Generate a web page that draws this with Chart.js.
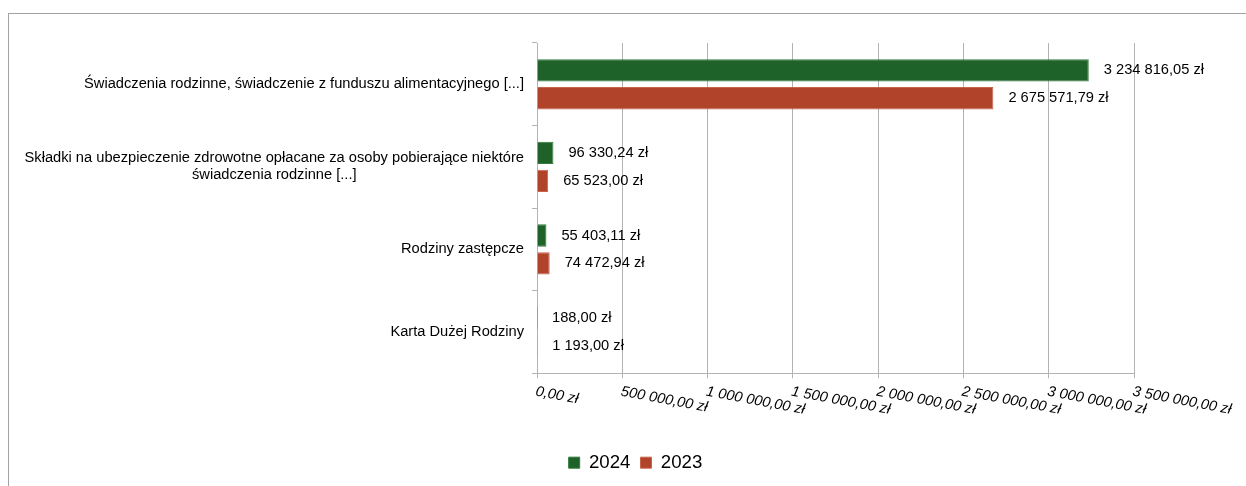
<!DOCTYPE html>
<html>
<head>
<meta charset="utf-8">
<script src="https://cdn.jsdelivr.net/npm/chart.js@4.4.1/dist/chart.umd.min.js"></script>
<style>
  html, body { margin: 0; padding: 0; overflow: hidden; background: #fff; }
  .frame {
    position: absolute;
    left: 8px;
    top: 13px;
    width: 1250px;
    height: 490px;
    border: 1px solid #a3a3a3;
    background: #fff;
  }
  .chart-box { position: relative; width: 1237px; height: 472px; }
</style>
</head>
<body>
<div class="frame">
  <div class="chart-box"><canvas id="myChart"></canvas></div>
</div>
<script>
// categories (multi-line ones as arrays)
const categories = [
  ["Świadczenia rodzinne, świadczenie z funduszu alimentacyjnego [...]"],
  ["Składki na ubezpieczenie zdrowotne opłacane za osoby pobierające niektóre", "świadczenia rodzinne [...]"],
  ["Rodziny zastępcze"],
  ["Karta Dużej Rodziny"],
];
const seriesNames = ["2024", "2023"];
const values2024 = [3234816.05, 96330.24, 55403.11, 188.0];
const values2023 = [2675571.79, 65523.0, 74472.94, 1193.0];
const axisMax = 3500000;
const axisStep = 500000;

const FONT = "'Liberation Sans', Arial, sans-serif";
const GRID = "#b3b3b3";

// 3234816.05 -> "3 234 816,05 zł"
function formatZl(v) {
  var parts = Number(v).toFixed(2).split(".");
  var intPart = parts[0].replace(/\B(?=(\d{3})+(?!\d))/g, " ");
  return intPart + "," + parts[1] + " zł";
}

// value labels to the right of each bar
const valueLabels = {
  id: "valueLabels",
  afterDatasetsDraw(chart) {
    const ctx = chart.ctx;
    ctx.save();
    ctx.font = "14.67px " + FONT;
    ctx.fillStyle = "#000";
    ctx.textAlign = "left";
    ctx.textBaseline = "middle";
    chart.data.datasets.forEach((ds, i) => {
      chart.getDatasetMeta(i).data.forEach((bar, j) => {
        ctx.fillText(formatZl(ds.data[j]), bar.x + 15, bar.y);
      });
    });
    ctx.restore();
  },
};

// slanted x tick labels and centered multi-line category labels
const axisLabels = {
  id: "axisLabels",
  afterDraw(chart) {
    const ctx = chart.ctx;
    const xs = chart.scales.x;
    const ys = chart.scales.y;
    ctx.save();
    ctx.fillStyle = "#000";

    ctx.font = "italic 14.67px " + FONT;
    ctx.textAlign = "left";
    ctx.textBaseline = "top";
    xs.ticks.forEach((t) => {
      const px = xs.getPixelForValue(t.value);
      ctx.save();
      ctx.translate(px, xs.top + 11);
      ctx.rotate((10.5 * Math.PI) / 180);
      ctx.fillText(formatZl(t.value), 0, 0);
      ctx.restore();
    });

    ctx.font = "14.67px " + FONT;
    ctx.textAlign = "center";
    ctx.textBaseline = "middle";
    const right = ys.right - 13;
    const lineH = 17;
    categories.forEach((lines, i) => {
      const y = ys.getPixelForTick(i);
      const maxW = Math.max(...lines.map((l) => ctx.measureText(l).width));
      lines.forEach((l, k) => {
        ctx.fillText(l, right - maxW / 2, y + (k - (lines.length - 1) / 2) * lineH);
      });
    });
    ctx.restore();
  },
};

Chart.defaults.font.family = FONT;

new Chart(document.getElementById("myChart"), {
  type: "bar",
  data: {
    labels: categories,
    datasets: [
      {
        label: seriesNames[0],
        data: values2024,
        backgroundColor: "#1e6129",
        borderColor: "#2f7a3a",
        borderWidth: 1,
      },
      {
        label: seriesNames[1],
        data: values2023,
        backgroundColor: "#b0432a",
        borderColor: "#c9644c",
        borderWidth: 1,
      },
    ],
  },
  options: {
    indexAxis: "y",
    responsive: true,
    maintainAspectRatio: false,
    animation: false,
    barPercentage: 0.8,
    categoryPercentage: 0.675,
    layout: { padding: { top: 29, left: 16, bottom: 4, right: 0 } },
    scales: {
      x: {
        min: 0,
        max: axisMax,
        ticks: { stepSize: axisStep, display: false },
        grid: { color: GRID, tickLength: 5, drawTicks: true },
        border: { color: GRID },
        afterFit: (scale) => { scale.height = 70; },
      },
      y: {
        ticks: { display: false },
        grid: { drawOnChartArea: false, offset: true, tickLength: 5, color: GRID },
        border: { color: GRID },
        afterFit: (scale) => { scale.width = 512; },
      },
      // keeps empty space to the right of the plot
      pad: {
        type: "linear",
        position: "right",
        display: true,
        ticks: { display: false },
        grid: { display: false },
        border: { display: false },
        afterFit: (scale) => { scale.width = 112; },
      },
    },
    plugins: {
      legend: {
        position: "bottom",
        labels: {
          boxWidth: 11,
          boxHeight: 11,
          padding: 10,
          color: "#000",
          font: { size: 18.67 },
        },
      },
      tooltip: { enabled: false },
    },
  },
  plugins: [valueLabels, axisLabels],
});
</script>
</body>
</html>
